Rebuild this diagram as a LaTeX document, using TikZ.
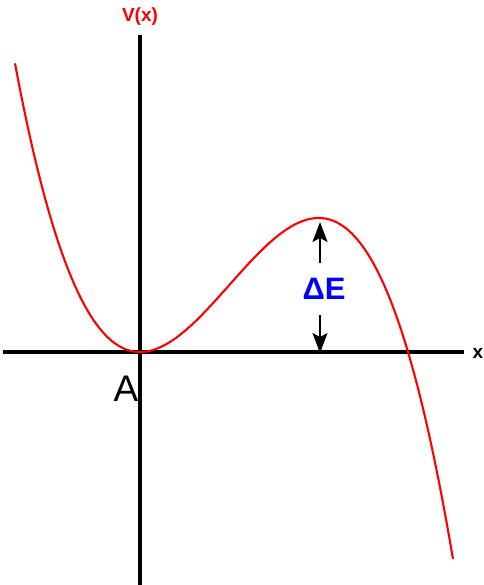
\documentclass[tikz,border=0pt]{standalone}
\usepackage{fontspec}
\setmainfont{Liberation Sans}
\usetikzlibrary{arrows.meta}
\begin{document}
\begin{tikzpicture}[x=1pt,y=-1pt,
  axis/.style={line width=3.4pt,black},
  curve/.style={line width=2.1pt,red},
  gap/.style={line width=1.8pt,black,-{Stealth[length=20pt,width=15pt,inset=4pt]}},
  lbl/.style={inner sep=0pt}]
\useasboundingbox (0,0) rectangle (483,585);
% axes
\coordinate (xl) at (3,352);
\coordinate (xr) at (464,352);
\coordinate (yt) at (140,35);
\coordinate (yb) at (140,585);
\draw[axis] (xl) -- (xr);
\draw[axis] (yt) -- (yb);
% curve
\draw[curve,smooth] plot[domain=-1.25:3.13,samples=120]
  ({140+100*\x},{352-47*\x*\x*(2.68-\x)});
% labels
\node[lbl,red,font=\fontsize{19}{19}\selectfont\bfseries] (vx) at (140,17) {V(x)};
\node[lbl,font=\fontsize{19}{19}\selectfont\bfseries] (xlab) at (478,353) {x};
\node[lbl,font=\fontsize{37}{37}\selectfont] (A) at (126,389) {A};
\node[lbl,blue,font=\fontsize{31}{31}\selectfont\bfseries] (dE) at (324,289) {ΔE};
% gap arrows
\coordinate (top) at (320,222);
\coordinate (bot) at (320,353);
\coordinate (s1) at (320,263);
\coordinate (s2) at (320,315);
\draw[gap] (s1) -- (top);
\draw[gap] (s2) -- (bot);
\end{tikzpicture}
\end{document}
